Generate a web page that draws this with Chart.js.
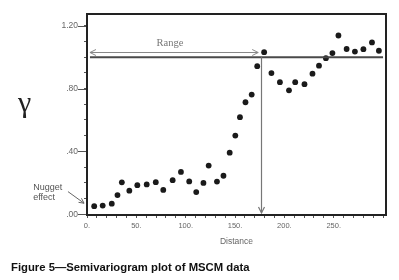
<!DOCTYPE html>
<html><head><meta charset="utf-8">
<script src="https://cdn.jsdelivr.net/npm/chart.js@4.4.1/dist/chart.umd.min.js"></script>
<style>
html,body{margin:0;padding:0;background:#fff;}
#wrap{position:relative;width:399px;height:280px;overflow:hidden;background:#fff;}
#gamma{position:absolute;left:18px;top:87px;font:30px/30px "Liberation Serif","DejaVu Serif",serif;color:#222;}
#caption{position:absolute;left:11px;top:261px;font:bold 11.3px/13px "Liberation Sans",Arial,sans-serif;color:#111;white-space:nowrap;}
</style></head><body>
<div id="wrap"><canvas id="c" width="399" height="280"></canvas>
<div id="gamma">γ</div>
<div id="caption">Figure 5—Semivariogram plot of MSCM data</div></div>
<script>
// Lag distances and semivariance values
const distances = [7.3, 15.9, 25.1, 30.9, 35.3, 42.9, 51.0, 60.5, 69.7, 77.3,
  86.8, 95.2, 103.6, 110.7, 118.0, 123.3, 131.7, 138.3, 144.6, 150.3,
  155.0, 160.6, 166.9, 172.5, 179.5, 186.9, 195.5, 204.7, 211.0, 220.4,
  228.5, 235.1, 242.1, 248.7, 254.8, 263.1, 271.5, 280.1, 288.8, 295.8];
const gammaValues = [0.051, 0.055, 0.067, 0.122, 0.203, 0.150, 0.185, 0.190, 0.204, 0.155,
  0.217, 0.269, 0.209, 0.141, 0.199, 0.310, 0.208, 0.245, 0.392, 0.501,
  0.618, 0.713, 0.762, 0.943, 1.032, 0.899, 0.841, 0.789, 0.841, 0.828,
  0.895, 0.946, 0.994, 1.026, 1.138, 1.052, 1.036, 1.051, 1.094, 1.041];

// Axis ticks
const xTickValues = [0,10,20,30,40,50,60,70,80,90,100,110,120,130,140,150,160,170,180,190,200,210,220,230,240,250,260,270,280,290,300];
const xLabelValues = [0, 50, 100, 150, 200, 250];
const xLabels = ['0.', '50.', '100.', '150.', '200.', '250.'];
const yTickValues = [0,0.1,0.2,0.3,0.4,0.5,0.6,0.7,0.8,0.9,1.0,1.1,1.2];
const yLabelValues = [0, 0.4, 0.8, 1.2];
const yLabels = ['.00', '.40', '.80', '1.20'];

// Annotations
const sillValue = 1.0;
const sillFrom = 3, sillTo = 300;
const rangeArrowY = 1.036, rangeArrowFrom = 3, rangeArrowTo = 173.5;
const rangeDistance = 176.5;
const rangeLabel = 'Range', rangeLabelX = 84, rangeLabelY = 1.09;
const nuggetLines = ['Nugget', 'effect'];
const nuggetTextX = -54.5, nuggetTextY = [0.169, 0.105];
const nuggetArrow = {x1: -19.3, y1: 0.144, x2: -3, y2: 0.07};

function findLabel(v, vals, labs){
  for (let i = 0; i < vals.length; i++) if (Math.abs(v - vals[i]) < 1e-6) return labs[i];
  return '';
}
function chevron(ctx, tx, ty, dx, dy, len, half){
  const n = Math.hypot(dx, dy); const ux = dx/n, uy = dy/n;
  const bx = tx - ux*len, by = ty - uy*len;
  ctx.beginPath();
  ctx.moveTo(bx - uy*half, by + ux*half);
  ctx.lineTo(tx, ty);
  ctx.lineTo(bx + uy*half, by - ux*half);
  ctx.stroke();
}

const annotPlugin = {
  id: 'annot',
  afterDatasetsDraw(chart){
    const ctx = chart.ctx, xs = chart.scales.x, ys = chart.scales.y, ca = chart.chartArea;
    ctx.save();
    // sill line
    ctx.strokeStyle = '#4a4a4a'; ctx.lineWidth = 2;
    ctx.beginPath();
    ctx.moveTo(xs.getPixelForValue(sillFrom), ys.getPixelForValue(sillValue));
    ctx.lineTo(xs.getPixelForValue(sillTo), ys.getPixelForValue(sillValue));
    ctx.stroke();
    // range double arrow
    ctx.strokeStyle = '#888'; ctx.lineWidth = 1;
    const ry = Math.round(ys.getPixelForValue(rangeArrowY)) + 0.5;
    const rx1 = xs.getPixelForValue(rangeArrowFrom), rx2 = xs.getPixelForValue(rangeArrowTo);
    ctx.beginPath(); ctx.moveTo(rx1, ry); ctx.lineTo(rx2, ry); ctx.stroke();
    chevron(ctx, rx1, ry, -1, 0, 6, 3);
    chevron(ctx, rx2, ry, 1, 0, 6, 3);
    // vertical range line with arrow
    ctx.strokeStyle = '#777'; ctx.lineWidth = 1.2;
    const vx = Math.round(xs.getPixelForValue(rangeDistance)) + 0.5;
    const vy1 = ys.getPixelForValue(sillValue), vy2 = ca.bottom - 2;
    ctx.beginPath(); ctx.moveTo(vx, vy1); ctx.lineTo(vx, vy2); ctx.stroke();
    chevron(ctx, vx, vy2, 0, 1, 6, 3);
    // Range label
    ctx.fillStyle = '#777';
    ctx.font = '10.5px "Liberation Serif", "DejaVu Serif", serif';
    ctx.textAlign = 'center'; ctx.textBaseline = 'middle';
    ctx.fillText(rangeLabel, xs.getPixelForValue(rangeLabelX), ys.getPixelForValue(rangeLabelY));
    // Nugget effect
    ctx.fillStyle = '#555';
    ctx.font = '9px "Liberation Sans", Arial, sans-serif';
    ctx.textAlign = 'left';
    nuggetLines.forEach((t, i) => ctx.fillText(t, xs.getPixelForValue(nuggetTextX), ys.getPixelForValue(nuggetTextY[i])));
    ctx.strokeStyle = '#666'; ctx.lineWidth = 1;
    const ax1 = xs.getPixelForValue(nuggetArrow.x1), ay1 = ys.getPixelForValue(nuggetArrow.y1);
    const ax2 = xs.getPixelForValue(nuggetArrow.x2), ay2 = ys.getPixelForValue(nuggetArrow.y2);
    ctx.beginPath(); ctx.moveTo(ax1, ay1); ctx.lineTo(ax2, ay2); ctx.stroke();
    chevron(ctx, ax2, ay2, ax2 - ax1, ay2 - ay1, 5, 2.5);
    // longer major y ticks
    ctx.strokeStyle = '#555'; ctx.lineWidth = 1;
    yLabelValues.forEach(v => {
      const py = Math.round(ys.getPixelForValue(v)) + 0.5;
      ctx.beginPath(); ctx.moveTo(ca.left - 9, py); ctx.lineTo(ca.left, py); ctx.stroke();
    });
    // frame
    ctx.strokeStyle = '#222'; ctx.lineWidth = 2;
    ctx.strokeRect(ca.left, ca.top, ca.right - ca.left, ca.bottom - ca.top);
    ctx.restore();
  }
};

new Chart(document.getElementById('c'), {
  type: 'scatter',
  data: {
    datasets: [{
      data: distances.map((d, i) => ({x: d, y: gammaValues[i]})),
      backgroundColor: '#1a1a1a',
      borderWidth: 0,
      pointRadius: 2.9,
      pointHoverRadius: 2.9
    }]
  },
  options: {
    responsive: false,
    animation: false,
    events: [],
    layout: {padding: {left: 0, top: 14, right: 13, bottom: 30}},
    plugins: {legend: {display: false}, tooltip: {enabled: false}},
    scales: {
      x: {
        type: 'linear', min: 0, max: 303,
        afterFit: s => { s.height = 35; },
        afterBuildTicks: s => { s.ticks = xTickValues.map(v => ({value: v})); },
        border: {display: false},
        grid: {drawOnChartArea: false, drawTicks: true, tickLength: 3, color: '#555', lineWidth: 1},
        ticks: {
          autoSkip: false, maxRotation: 0, minRotation: 0, padding: 3,
          color: '#666', font: {size: 7.5, family: '"Liberation Sans", Arial, sans-serif'},
          callback: v => findLabel(v, xLabelValues, xLabels)
        },
        title: {display: true, text: 'Distance', color: '#666',
          font: {size: 8.5, family: '"Liberation Sans", Arial, sans-serif'}, padding: {top: 0, bottom: 3}}
      },
      y: {
        type: 'linear', min: -0.005, max: 1.275,
        afterFit: s => { s.width = 87; },
        afterBuildTicks: s => { s.ticks = yTickValues.map(v => ({value: v})); },
        border: {display: false},
        grid: {drawOnChartArea: false, drawTicks: true, tickLength: 3, color: '#555', lineWidth: 1},
        ticks: {
          autoSkip: false, padding: 6,
          color: '#666', font: {size: 8.5, family: '"Liberation Sans", Arial, sans-serif'},
          callback: v => findLabel(v, yLabelValues, yLabels)
        }
      }
    }
  },
  plugins: [annotPlugin]
});
</script>
</body></html>
